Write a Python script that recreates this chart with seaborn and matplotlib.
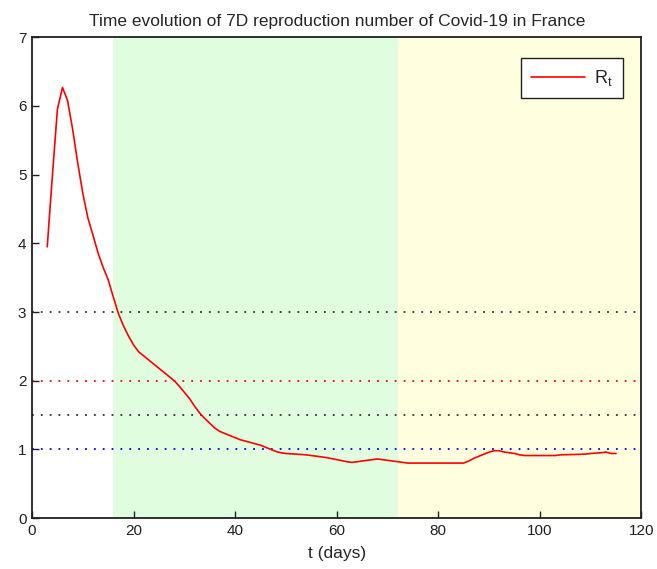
import matplotlib
matplotlib.use("Agg")
import matplotlib.pyplot as plt
import seaborn as sns
import pandas as pd

# Effective reproduction number R_t (7-day window), day index vs value
days = [3, 4, 5, 6, 7, 8, 9, 10, 11, 12, 13, 14, 15, 16, 17, 18, 19, 20,
        21, 22, 23, 24, 25, 26, 27, 28, 29, 30, 31, 32, 33, 34, 35, 36, 37,
        38, 39, 40, 41, 42, 43, 44, 45, 46, 47, 48, 49, 50, 52, 54, 56, 58,
        60, 62, 63, 64, 66, 68, 70, 72, 74, 78, 82, 85, 86, 87, 88, 89, 90,
        91, 92, 93, 95, 96, 97, 100, 103, 104, 109, 110, 112, 113, 114, 115]
rt = [3.95, 4.97, 5.95, 6.27, 6.08, 5.66, 5.17, 4.73, 4.37, 4.12, 3.86, 3.65,
      3.47, 3.22, 2.98, 2.80, 2.65, 2.52, 2.42, 2.36, 2.30, 2.24, 2.18, 2.12,
      2.06, 2.00, 1.92, 1.83, 1.74, 1.63, 1.53, 1.45, 1.38, 1.31, 1.26, 1.23,
      1.20, 1.17, 1.14, 1.12, 1.10, 1.08, 1.06, 1.03, 1.00, 0.97, 0.95, 0.94,
      0.93, 0.92, 0.90, 0.88, 0.85, 0.82, 0.81, 0.82, 0.84, 0.86, 0.84, 0.82,
      0.80, 0.80, 0.80, 0.80, 0.83, 0.87, 0.90, 0.93, 0.96, 0.98, 0.98, 0.96,
      0.94, 0.92, 0.91, 0.91, 0.91, 0.92, 0.93, 0.94, 0.95, 0.96, 0.94, 0.94]

# Policy phases (shaded periods) and reference thresholds
phase_bounds = [16, 72, 120]
phase_colors = ["#e0fde0", "#ffffe0"]
thresholds = [3.0, 2.0, 1.5, 1.0]
threshold_colors = ["#303030", "#ff0000", "#303030", "#0000ff"]

x_ticks = [0, 20, 40, 60, 80, 100, 120]
y_ticks = [0, 1, 2, 3, 4, 5, 6, 7]

df = pd.DataFrame({"t": days, "R": rt})

sns.set_style("white")
plt.rcParams["font.family"] = ["Liberation Sans", "DejaVu Sans"]

fig = plt.figure(figsize=(6.57, 5.69), dpi=100)
ax = fig.add_axes([0.0487, 0.0896, 0.9277, 0.8448])

for i in range(len(phase_colors)):
    ax.axvspan(phase_bounds[i], phase_bounds[i + 1], color=phase_colors[i],
               lw=0, zorder=0)

for y, c in zip(thresholds, threshold_colors):
    ax.axhline(y, color=c, lw=1.3, linestyle=(0, (1, 3.9)), zorder=1)

sns.lineplot(data=df, x="t", y="R", ax=ax, color="#ff0000", lw=1.2,
             label=r"R$_\mathregular{t}$", zorder=3)

ax.set_xlim(0, 120)
ax.set_ylim(0, 7)
ax.set_xticks(x_ticks)
ax.set_yticks(y_ticks)
ax.tick_params(direction="in", length=5, width=1, labelsize=11,
               colors="#202020", pad=4, bottom=True, left=True)
for s in ax.spines.values():
    s.set_color("#202020")
    s.set_linewidth(1.3)
    s.set_visible(True)

ax.set_xlabel("t (days)", fontsize=12.5, labelpad=6)
ax.set_ylabel("")
ax.set_title("Time evolution of 7D reproduction number of Covid-19 in France",
             fontsize=12.5, pad=8)

leg = ax.legend(loc="upper right", bbox_to_anchor=(0.9697, 0.957),
                borderaxespad=0.0, frameon=True, fancybox=False, fontsize=13,
                handlelength=3.0, handletextpad=0.5, borderpad=0.55)
leg.get_frame().set_edgecolor("#202020")
leg.get_frame().set_linewidth(1.0)
leg.get_frame().set_facecolor("white")
leg.get_frame().set_alpha(1.0)

fig.savefig("out.png", dpi=100, facecolor="white")
